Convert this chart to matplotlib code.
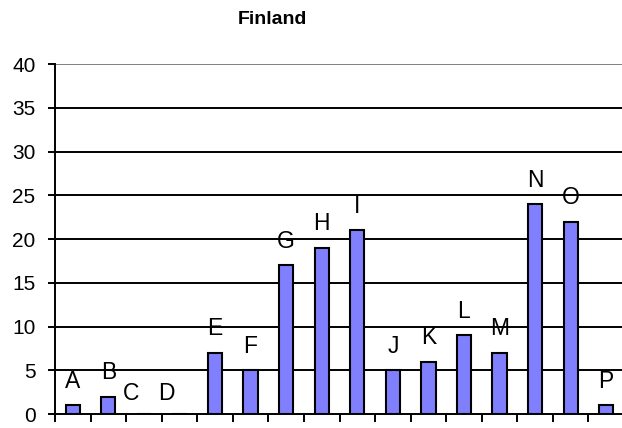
import numpy as np
import matplotlib.pyplot as plt

plt.rcParams['font.family'] = ['Liberation Sans', 'DejaVu Sans']

# Data
labels = ["A", "B", "C", "D", "E", "F", "G", "H", "I", "J", "K", "L", "M", "N", "O", "P"]
values = [1, 2, 0, 0, 7, 5, 17, 19, 21, 5, 6, 9, 7, 24, 22, 1]
yticks = [0, 5, 10, 15, 20, 25, 30, 35, 40]

fig = plt.figure(figsize=(6.22, 4.28), dpi=100)
ax = fig.add_axes([55 / 622, 1 - 414 / 428, 569 / 622, 350 / 428])

x = np.arange(len(labels))
ax.bar(x, values, width=0.4, color="#8080FF", edgecolor="black", linewidth=1.5, zorder=3)

# gridlines
for t in yticks[1:-1]:
    ax.axhline(t, color="black", linewidth=1.4, zorder=1)
ax.axhline(40, color="#808080", linewidth=1.4, zorder=1)

# letter labels above bars
for xi, v, lab in zip(x, values, labels):
    dx = -13 if v == 0 else 0
    dy = 20 if v == 0 else 24
    ax.annotate(lab, (xi, v), xytext=(dx * 0.72, dy * 0.72), textcoords="offset points",
                ha="center", va="center", fontsize=16.5, zorder=4)

ax.set_xlim(-0.5, len(labels) - 0.5)
ax.set_ylim(0, 40)
ax.set_yticks(yticks)
ax.tick_params(axis="y", labelsize=15, length=5, width=1.4, pad=9, color="black")
ax.set_xticks([])
ax.set_xticks(np.arange(len(labels) + 1) - 0.5, minor=True)
ax.tick_params(axis="x", which="minor", length=5.5, width=1.4, direction="out")

for s in ["top", "right"]:
    ax.spines[s].set_visible(False)
ax.spines["left"].set_linewidth(1.4)
ax.spines["bottom"].set_linewidth(1.4)
ax.spines["left"].set_zorder(5)
ax.spines["bottom"].set_zorder(5)

fig.text(272 / 622, 1 - 19 / 428, "Finland", ha="center", va="center",
         fontsize=14, fontweight="bold")

fig.savefig("out.png", dpi=100)
